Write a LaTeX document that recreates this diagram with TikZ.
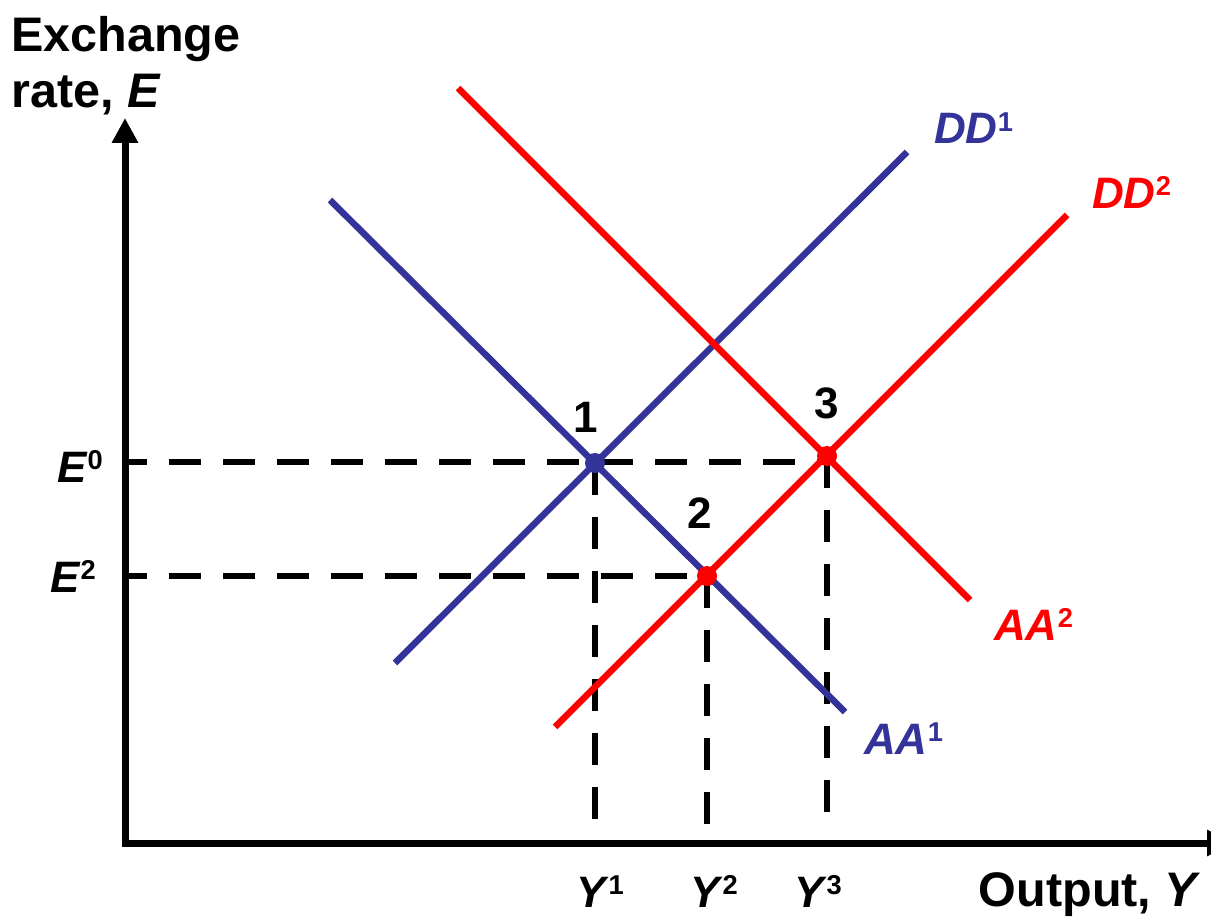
\documentclass[tikz,border=0pt]{standalone}
\usepackage{fontspec}
\setmainfont{Liberation Sans}
\usetikzlibrary{arrows.meta}
\definecolor{cblue}{RGB}{51,51,153}
\definecolor{cred}{RGB}{255,0,0}
\newcommand\supx[1]{\raisebox{0.29em}{\scalebox{0.62}{#1}}}
\begin{document}
\begin{tikzpicture}[x=1pt,y=-1pt,
  lbl/.style={inner sep=0pt,font=\fontsize{44}{48}\selectfont\bfseries},
  biglbl/.style={inner sep=0pt,font=\fontsize{48.5}{52}\selectfont\bfseries},
  axis/.style={line width=7pt,{Triangle[width=25pt,length=25pt]}-{Triangle[width=25pt,length=25pt]}},
  curveb/.style={line width=6.5pt,cblue},
  curver/.style={line width=6.5pt,cred},
  guide/.style={line width=6pt,dash pattern=on 32pt off 22pt},
  pt/.style={circle,inner sep=0pt,minimum size=20pt}]
\useasboundingbox (0,0) rectangle (1211,923);
% axes
\coordinate (ytop) at (125,118);
\coordinate (O) at (125,843);
\coordinate (xend) at (1232,843);
\draw[axis] (ytop) -- (O) -- (xend);
% curve endpoints
\coordinate (aa1s) at (330,200); \coordinate (aa1e) at (845,712);
\coordinate (dd1s) at (395,663); \coordinate (dd1e) at (907,152);
\coordinate (aa2s) at (458,88);  \coordinate (aa2e) at (970,600);
\coordinate (dd2s) at (555,727); \coordinate (dd2e) at (1067,215);
% equilibrium points
\coordinate (p1) at (595,463);
\coordinate (p2) at (707,576);
\coordinate (p3) at (827,456);
% axis feet
\coordinate (e0) at (129,462); \coordinate (e2) at (129,576);
\coordinate (y1) at (595,826); \coordinate (y2) at (707,826); \coordinate (y3) at (827,826);
% dashed guides
\draw[guide,dash phase=14pt] (e0) -- (e0 -| p3);
\draw[guide,dash phase=14pt] (e2) -- (p2);
\draw[guide] (p1) -- (y1);
\draw[guide] (p2) -- (y2);
\draw[guide] (p3) -- (y3);
% curves
\draw[curveb] (aa1s) -- (aa1e);
\draw[curveb] (dd1s) -- (dd1e);
\draw[curver] (aa2s) -- (aa2e);
\draw[curver] (dd2s) -- (dd2e);
% dots
\node[pt,fill=cblue] (d1) at (p1) {};
\node[pt,fill=cred] (d2) at (p2) {};
\node[pt,fill=cred] (d3) at (p3) {};
% labels
\node[biglbl,anchor=base west] (t1) at (11,52) {Exchange};
\node[biglbl,anchor=base west] (t2) at (11,108) {rate, \textit{E}};
\node[biglbl,anchor=base east] (t3) at (1201,906) {Output, \textit{Y}};
\node[lbl,anchor=base east] (le0) at (103,482) {\textit{E}\supx{0}};
\node[lbl,anchor=base east] (le2) at (96,592) {\textit{E}\supx{2}};
\node[lbl,anchor=base] (ly1) at (600,907) {\textit{Y}\supx{1}};
\node[lbl,anchor=base] (ly2) at (714,907) {\textit{Y}\supx{2}};
\node[lbl,anchor=base] (ly3) at (818,907) {\textit{Y}\supx{3}};
\node[lbl,anchor=base] (n1) at (586,432) {1};
\node[lbl,anchor=base] (n2) at (700,528) {2};
\node[lbl,anchor=base] (n3) at (827,418) {3};
\node[lbl,anchor=base west,text=cblue] (ldd1) at (934,144) {\textit{DD}\supx{1}};
\node[lbl,anchor=base west,text=cred] (ldd2) at (1092,208) {\textit{DD}\supx{2}};
\node[lbl,anchor=base west,text=cred] (laa2) at (994,640) {\textit{AA}\supx{2}};
\node[lbl,anchor=base west,text=cblue] (laa1) at (864,754) {\textit{AA}\supx{1}};
\end{tikzpicture}
\end{document}
